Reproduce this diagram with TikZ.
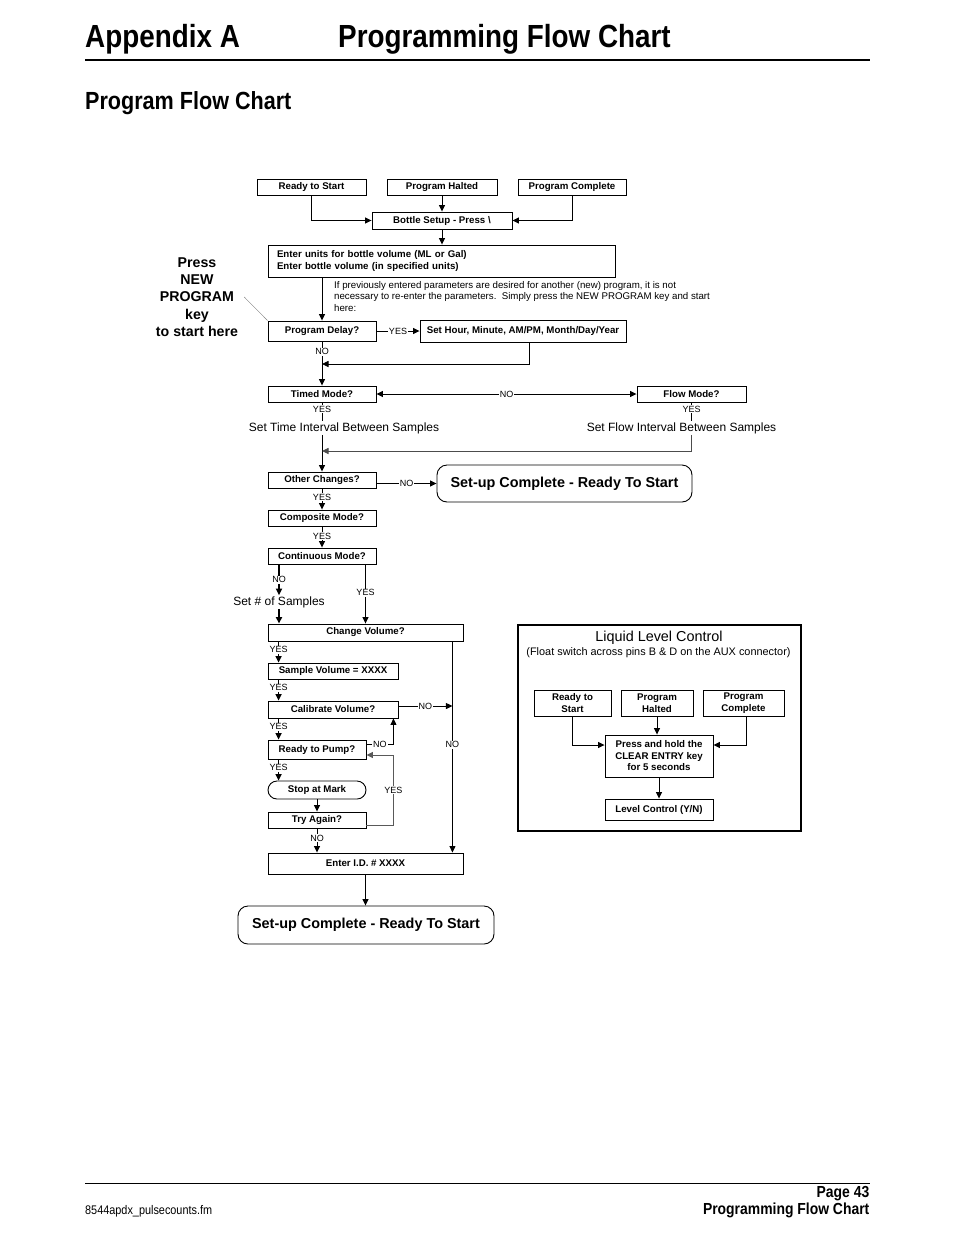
\documentclass[tikz,border=0pt]{standalone}
\usepackage{fontspec}
\setmainfont{Liberation Sans}
\newfontfamily\condfont[FakeStretch=0.87]{Liberation Sans}
\usetikzlibrary{arrows.meta,calc}
\tikzset {>={Triangle[length=6.5pt,width=6pt]}}
\newcommand*{\bxf}{\fontsize{9.7}{11.5}\selectfont\bfseries}
\newcommand*{\lbf}{\fontsize{9}{10}\selectfont}
\tikzset{
  box/.style={draw,line width=0.9pt,inner sep=0pt,font=\bxf,align=center},
  endbox/.style={draw,line width=0.9pt,inner sep=0pt,rounded corners=10pt,font=\fontsize{14.4}{16}\selectfont\bfseries},
  lbl/.style={fill=white,text=black,inner sep=0.8pt,font=\lbf},
  txt/.style={inner sep=1pt,font=\fontsize{12}{14}\selectfont},
  wire/.style={line width=0.9pt},
  fatwire/.style={line width=1.6pt}
}

\begin{document}
\begin{tikzpicture}[x=1pt,y=-1pt]
\useasboundingbox (0,0) rectangle (954,1235);
\node[anchor=base west,inner sep=0pt,font={\condfont\bfseries\fontsize{32}{36}\selectfont}] (apx) at (85,47) {Appendix A};
\node[anchor=base west,inner sep=0pt,font={\condfont\bfseries\fontsize{32}{36}\selectfont}] (apxt) at (338,47) {Programming Flow Chart};
\draw[line width=2pt] (85,59.5) -- (870,59.5);
\node[anchor=base west,inner sep=0pt,font={\condfont\bfseries\fontsize{24.8}{28}\selectfont}] (sub) at (85,109) {Program Flow Chart};

\node[box,minimum width=109pt,minimum height=16pt] (rts) at (311.5,187) {Ready to Start};
\node[box,minimum width=110pt,minimum height=16pt] (halt) at (442,187) {Program Halted};
\node[box,minimum width=108pt,minimum height=16pt] (done) at (572,187) {Program Complete};
\node[box,minimum width=140pt,minimum height=17pt] (bottle) at (442,220.5) {Bottle Setup - Press \textbackslash};
\node[box,minimum width=347pt,minimum height=32pt,inner xsep=9pt,text width=329pt,align=left,font={\fontsize{9.7}{12}\selectfont\bfseries}] (units) at (441.5,261) {Enter units for bottle volume (ML or Gal)\\Enter bottle volume (in specified units)};
\node[anchor=north west,inner sep=0pt,align=left,font=\fontsize{9.7}{11.5}\selectfont] (note) at (334,281) {If previously entered parameters are desired for another (new) program, it is not\\necessary to re-enter the parameters.\ \ Simply press the NEW PROGRAM key and start\\here:};
\node[inner sep=1pt,align=center,font=\fontsize{14.2}{17.2}\selectfont\bfseries] (press) at (197,297) {Press\\NEW\\PROGRAM\\key\\to start here};
\node[box,minimum width=108pt,minimum height=20pt] (delay) at (322,331) {Program Delay?};
\node[box,minimum width=206pt,minimum height=22pt] (hour) at (523,331) {Set Hour, Minute, AM/PM, Month/Day/Year};
\node[box,minimum width=108pt,minimum height=16pt] (timed) at (322,394) {Timed Mode?};
\node[box,minimum width=109pt,minimum height=16pt] (flowm) at (691.5,394) {Flow Mode?};
\node[txt] (settime) at (344,428) {Set Time Interval Between Samples};
\node[txt] (setflow) at (681.5,428) {Set Flow Interval Between Samples};
\node[box,minimum width=108pt,minimum height=16pt] (other) at (322,480) {Other Changes?};
\node[endbox,minimum width=255pt,minimum height=37pt] (ready1) at (564.5,483.5) {Set-up Complete - Ready To Start};
\node[box,minimum width=108pt,minimum height=16pt] (comp) at (322,518) {Composite Mode?};
\node[box,minimum width=108pt,minimum height=16pt] (cont) at (322,556) {Continuous Mode?};
\node[txt] (setn) at (279,602) {Set \# of Samples};
\node[box,minimum width=195pt,minimum height=17pt] (chvol) at (365.5,632.5) {Change Volume?};
\node[box,minimum width=130pt,minimum height=16pt] (svol) at (333,671) {Sample Volume = XXXX};
\node[box,minimum width=130pt,minimum height=17pt] (cal) at (333,709.5) {Calibrate Volume?};
\node[box,minimum width=98pt,minimum height=19pt] (pump) at (317,749.5) {Ready to Pump?};
\node[box,minimum width=98pt,minimum height=18pt,rounded corners=9pt] (stop) at (317,790) {Stop at Mark};
\node[box,minimum width=98pt,minimum height=16pt] (again) at (317,820) {Try Again?};
\node[box,minimum width=195pt,minimum height=21pt] (eid) at (365.5,863.5) {Enter I.D. \# XXXX};
\node[endbox,minimum width=256pt,minimum height=38pt] (ready2) at (366,925) {Set-up Complete - Ready To Start};

\coordinate (mB) at (322,364);
\coordinate (mA) at (322,451);
\coordinate (vt) at ([xshift=-11pt]chvol.south east);
\coordinate (calno) at ([yshift=3.5pt]cal.east);
\coordinate (pumpno) at ([yshift=5.5pt]pump.east);
\coordinate (pumpyes) at ([yshift=-5.5pt]pump.east);
\coordinate (againyes) at ([yshift=-5pt]again.east);

\draw[wire,->] (rts.south) |- (bottle.west);
\draw[wire,->] (halt.south) -- (halt.south |- bottle.north);
\draw[wire,->] (done.south) |- (bottle.east);
\draw[wire,->] (bottle.south) -- (bottle.south |- units.north);
\draw[wire,->] (delay.north |- units.south) -- (delay.north);
\draw[gray,thin] ([xshift=5pt]press.east) -- (delay.north west);
\draw[wire,->] (delay.east) -- node[lbl]{YES} (hour.west);
\draw[wire,->] ([xshift=6pt]hour.south) |- (mB);
\draw[wire,->] (delay.south) -- node[lbl,pos=0.23]{NO} (timed.north);
\draw[wire,<->] (timed.east) -- node[lbl]{NO} (flowm.west);
\draw[wire] (timed.south) -- node[lbl,pos=0.35]{YES} (timed.south |- settime.north);
\draw[wire] (flowm.south) -- node[lbl,pos=0.35]{YES} (flowm.south |- setflow.north);
\draw[wire,->] (timed.south |- settime.south) -- (other.north);
\draw[wire,->,gray!60!black] (flowm.south |- setflow.south) |- (mA);
\draw[wire,->] (other.east |- ready1.west) -- node[lbl]{NO} (ready1.west);
\draw[wire,->] (other.south) -- node[lbl,pos=0.41]{YES} (comp.north);
\draw[wire,->] (comp.south) -- node[lbl,pos=0.45]{YES} (cont.north);
\draw[fatwire,->] (cont.south -| setn.north) -- node[lbl]{NO} (setn.north);
\draw[wire,->] (cont.south -| chvol.north) -- node[lbl,pos=0.48]{YES} (chvol.north);
\draw[fatwire,->] (setn.south) -- (setn.south |- chvol.north);
\foreach \a/\b in {chvol/svol,svol/cal,cal/pump,pump/stop}
  \draw[fatwire,->] ([xshift=11pt]\a.south west) -- node[lbl,pos=0.4]{YES} ([xshift=11pt]\b.north west);
\draw[wire,->] (stop.south) -- (again.north);
\draw[wire,->] (again.south) -- node[lbl,pos=0.4]{NO} (again.south |- eid.north);
\draw[wire,->] (calno) -- node[lbl]{NO} (calno -| vt);
\draw[wire,->] (vt) -- node[lbl,pos=0.49]{NO} (vt |- eid.north);
\draw[wire,->] (pumpno) -| node[lbl,pos=0.25]{NO} ([xshift=-5pt]cal.south east);
\draw[wire,->,gray!70!black] (againyes) -- ++(27,0) |- node[lbl,pos=0.25]{YES} (pumpyes);
\draw[wire,->] (eid.south) -- (eid.south |- ready2.north);

\node[draw,line width=1.5pt,minimum width=283pt,minimum height=206pt,inner sep=0pt] (llc) at (659.5,728) {};
\node[inner sep=0pt,font=\fontsize{14.4}{16}\selectfont] (llct) at (659,638) {Liquid Level Control};
\node[inner sep=0pt,font=\fontsize{10.9}{12}\selectfont] (llcs) at (658.5,653) {(Float switch across pins B \& D on the AUX connector)};
\node[box,minimum width=77pt,minimum height=26pt] (lrts) at (572.5,703) {Ready to\\Start};
\node[box,minimum width=72pt,minimum height=26pt] (lhalt) at (657,703) {Program\\Halted};
\node[box,minimum width=81pt,minimum height=26pt] (ldone) at (743.5,703) {Program\\Complete};
\node[box,minimum width=108pt,minimum height=42pt] (lpress) at (659,756) {Press and hold the\\CLEAR ENTRY key\\for 5 seconds};
\node[box,minimum width=108pt,minimum height=21pt] (llevel) at (659,809.5) {Level Control (Y/N)};
\draw[wire,->] (lrts.south) |- ([yshift=11pt]lpress.west);
\draw[wire,->] (lhalt.south) -- (lhalt.south |- lpress.north);
\draw[wire,->] ([xshift=3pt]ldone.south) |- ([yshift=11pt]lpress.east);
\draw[wire,->] (lpress.south) -- (llevel.north);

\draw[line width=0.8pt] (85,1183) -- (870,1183);
\node[anchor=base east,inner sep=0pt,font={\condfont\bfseries\fontsize{16}{18}\selectfont}] (pg) at (869.5,1197) {Page 43};
\node[anchor=base east,inner sep=0pt,font={\condfont\bfseries\fontsize{16}{18}\selectfont}] (pgt) at (869.5,1214.5) {Programming Flow Chart};
\node[anchor=base west,inner sep=0pt,font={\condfont\fontsize{12.5}{14}\selectfont}] (fn) at (85,1214) {8544apdx\_pulsecounts.fm};
\end{tikzpicture}
\end{document}
